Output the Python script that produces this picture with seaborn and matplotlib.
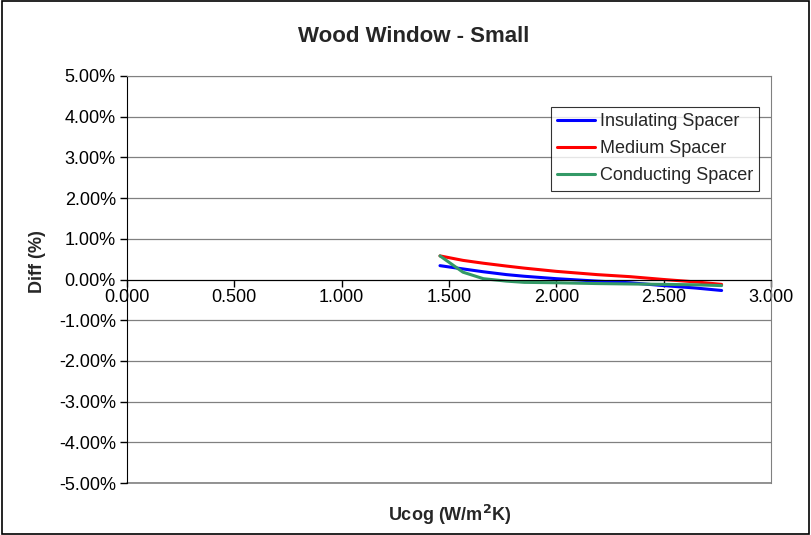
import pandas as pd
import matplotlib.pyplot as plt
import matplotlib.ticker as mtick
import seaborn as sns

# Values (Diff in %)
ucog = [1.458, 1.565, 1.66, 1.768, 1.85, 2.0, 2.19, 2.343, 2.50, 2.65, 2.77]
insulating = [0.34, 0.26, 0.19, 0.12, 0.08, 0.02, -0.04, -0.08, -0.15, -0.21, -0.27]
medium = [0.58, 0.47, 0.40, 0.33, 0.28, 0.20, 0.12, 0.07, 0.00, -0.06, -0.12]
conducting = [0.58, 0.18, 0.02, -0.04, -0.07, -0.08, -0.10, -0.11, -0.12, -0.13, -0.15]

series = ["Insulating Spacer", "Medium Spacer", "Conducting Spacer"]
colors = ["#0000ff", "#ff0000", "#339966"]

df = pd.concat([
    pd.DataFrame({"Ucog": ucog, "Diff": vals, "Series": name})
    for name, vals in zip(series, [insulating, medium, conducting])
])
df["Diff"] = df["Diff"] / 100.0

sns.set_style("white")
plt.rcParams["font.family"] = ["Liberation Sans", "DejaVu Sans"]
plt.rcParams["axes.unicode_minus"] = False

fig = plt.figure(figsize=(8.11, 5.35), dpi=100)
ax = fig.add_axes([127 / 811, 1 - 483 / 535, (771 - 127) / 811, (483 - 76) / 535])

sns.lineplot(data=df, x="Ucog", y="Diff", hue="Series", palette=colors,
             linewidth=2.2, ax=ax, sort=False)

ax.set_xlim(0, 3.0)
ax.set_ylim(-0.05, 0.05)
ax.set_xticks([0, 0.5, 1.0, 1.5, 2.0, 2.5, 3.0])
ax.set_yticks([i / 100 for i in range(-5, 6)])
ax.xaxis.set_major_formatter(mtick.FormatStrFormatter("%.3f"))
ax.yaxis.set_major_formatter(mtick.PercentFormatter(1.0, decimals=2))
ax.tick_params(labelsize=13, length=5, width=1, colors="black", direction="out")
ax.tick_params(axis="x", pad=2)
ax.tick_params(axis="y", pad=3)

ax.grid(axis="y", color="#808080", linewidth=0.9)
ax.axhline(-0.05, color="#808080", linewidth=1.2, clip_on=False, zorder=0)
ax.set_axisbelow(True)
ax.spines["bottom"].set_position(("data", 0))
ax.spines["bottom"].set_color("black")
ax.spines["left"].set_color("black")
ax.spines["top"].set_color("#808080")
ax.spines["right"].set_color("#808080")
ax.xaxis.set_ticks_position("bottom")
ax.yaxis.set_ticks_position("left")

ax.set_xlabel("")
ax.set_ylabel("")
fig.text(37 / 811, 1 - 262 / 535, "Diff (%)", rotation=90, ha="center", va="center",
         fontsize=13, fontweight="bold")
fig.text(450 / 811, 1 - 515 / 535, "Ucog (W/m$^\\mathbf{2}$K)",
         ha="center", va="center", fontsize=13, fontweight="bold")
fig.text(414 / 811, 1 - 37 / 535, "Wood Window - Small",
         ha="center", va="center", fontsize=16, fontweight="bold")

leg = ax.legend(loc="upper left", bbox_to_anchor=((551 - 127) / 644, (483 - 107) / 407),
                frameon=True, fancybox=False, fontsize=13, handlelength=2.1,
                borderpad=0.35, labelspacing=0.55, handletextpad=0.25, borderaxespad=0)
leg.get_frame().set_edgecolor("black")
leg.get_frame().set_linewidth(0.8)

# Outer figure border
fig.patches.append(plt.Rectangle((0.002, 0.002), 0.996, 0.996, transform=fig.transFigure,
                                 fill=False, edgecolor="black", linewidth=1.2))

plt.savefig("out.png", dpi=100)
